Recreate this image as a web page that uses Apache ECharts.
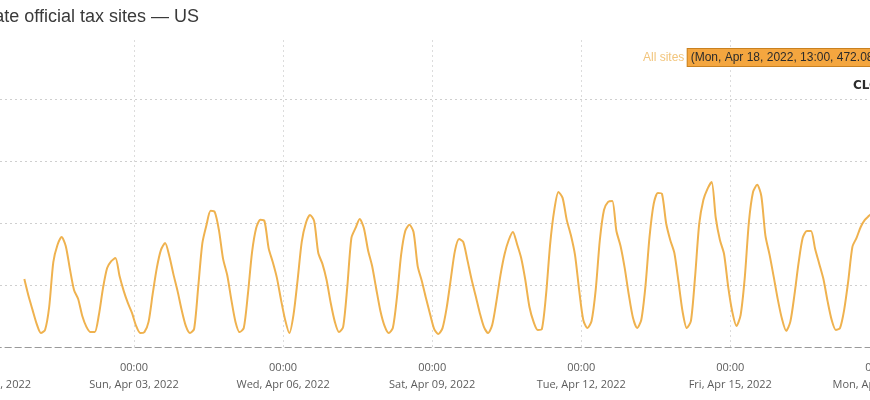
<!DOCTYPE html>
<html>
<head>
<meta charset="utf-8">
<title>Official tax sites — US</title>
<script src="https://cdn.jsdelivr.net/npm/echarts@6/dist/echarts.min.js"></script>
<style>
  html, body { margin: 0; padding: 0; overflow: hidden; background: #fff; }
  #main { position: absolute; left: -60px; top: 0; width: 1000px; height: 400px; }
</style>
</head>
<body>
<div id="main"></div>
<script>
// hours counted from Thu, Mar 31, 2022 00:00
var startHour = 19;
var stepHours = 2;
var seriesName = 'All sites';
var allSites = [
    219, 165, 119, 74, 45, 55, 129, 274, 329, 355, 326, 252,
    184, 155, 100, 65, 48, 48, 103, 190, 255, 277, 287, 229,
    181, 142, 110, 68, 45, 48, 81, 171, 255, 313, 335, 294,
    235, 181, 119, 68, 45, 58, 194, 335, 394, 439, 435, 377,
    284, 232, 152, 81, 48, 61, 171, 306, 384, 410, 406, 319,
    274, 223, 152, 87, 45, 103, 216, 339, 400, 426, 406, 303,
    268, 216, 142, 81, 48, 65, 194, 352, 384, 413, 384, 313,
    261, 187, 116, 68, 45, 61, 161, 297, 374, 394, 371, 261,
    213, 158, 106, 58, 42, 61, 126, 219, 310, 348, 339, 281,
    219, 165, 110, 65, 45, 71, 145, 232, 300, 345, 371, 332,
    287, 216, 129, 81, 55, 58, 168, 332, 442, 500, 481, 410,
    361, 297, 184, 87, 61, 84, 184, 345, 442, 468, 471, 374,
    326, 255, 168, 94, 61, 87, 194, 355, 461, 497, 494, 400,
    345, 303, 210, 113, 61, 84, 226, 397, 474, 510, 532, 416,
    345, 300, 194, 113, 68, 103, 223, 403, 500, 523, 487, 358,
    297, 226, 152, 90, 52, 81, 168, 271, 352, 374, 374, 316,
    268, 219, 148, 87, 55, 61, 119, 213, 323, 352, 387, 410,
    423, 435, 448, 455, 461, 465, 468, 471, 471, 472.08
];
var yTicks = [0, 200, 400, 600, 800];

var baseTime = Date.UTC(2022, 2, 31);
var dayNames = ['Sun', 'Mon', 'Tue', 'Wed', 'Thu', 'Fri', 'Sat'];
var monNames = ['Jan', 'Feb', 'Mar', 'Apr', 'May', 'Jun', 'Jul', 'Aug', 'Sep', 'Oct', 'Nov', 'Dec'];

function pad(n) { return n < 10 ? '0' + n : '' + n; }
function dateText(h) {
    var d = new Date(baseTime + h * 3600000);
    return dayNames[d.getUTCDay()] + ', ' + monNames[d.getUTCMonth()] + ' ' +
        pad(d.getUTCDate()) + ', ' + d.getUTCFullYear();
}
function timeText(h) {
    var d = new Date(baseTime + h * 3600000);
    return pad(d.getUTCHours()) + ':' + pad(d.getUTCMinutes());
}

var points = allSites.map(function (v, i) {
    return [startHour + i * stepHours, v];
});
var last = points[points.length - 1];
var hoverLabel = '(' + dateText(last[0]) + ', ' + timeText(last[0]) + ', ' + last[1] + ')';

var myChart = echarts.init(document.getElementById('main'));
var option = {
    animation: false,
    title: {
        text: 'Traffic to state official tax sites — US',
        right: 736,
        top: 3,
        textStyle: {
            fontFamily: 'Liberation Sans',
            fontSize: 18,
            fontWeight: 'normal',
            color: '#3a3a3a'
        }
    },
    legend: {
        data: [seriesName],
        left: 693,
        top: 43,
        icon: 'none',
        itemWidth: 0,
        itemHeight: 0,
        formatter: function (name) {
            return '{a|' + name + '} {b|' + hoverLabel + '}';
        },
        textStyle: {
            rich: {
                a: { color: '#f2c57c', fontSize: 12, fontFamily: 'Liberation Sans' },
                b: {
                    color: '#2b2b2b', fontSize: 12, fontFamily: 'Liberation Sans',
                    backgroundColor: '#f4a63f', borderColor: '#c98120', borderWidth: 1,
                    padding: [3, 3, 2, 3]
                }
            }
        }
    },
    graphic: [{
        type: 'text',
        left: 913,
        top: 80,
        style: {
            text: 'CLOUDFLARE',
            fill: '#2c2c2c',
            font: 'bold 12px "DejaVu Sans"'
        }
    }],
    grid: {
        left: 45,
        right: 11,
        top: 40,
        bottom: 53,
        containLabel: false,
        outerBoundsMode: 'none'
    },
    xAxis: {
        type: 'value',
        min: 0,
        max: 456,
        interval: 72,
        axisLine: {
            show: true,
            lineStyle: { color: '#9a9a9a', type: [6, 4], width: 1 }
        },
        axisTick: { show: false },
        axisLabel: {
            margin: 12,
            color: '#5c5c5c',
            fontFamily: 'Open Sans',
            fontSize: 11,
            lineHeight: 17,
            formatter: function (h) {
                return timeText(h) + '\n' + dateText(h);
            }
        },
        splitLine: {
            show: true,
            lineStyle: { color: '#dcdcdc', type: [2, 3], width: 1 }
        }
    },
    yAxis: {
        type: 'value',
        min: 0,
        max: 990,
        interval: 200,
        axisLine: { show: false },
        axisTick: { show: false },
        axisLabel: {
            color: '#5c5c5c',
            fontFamily: 'Open Sans',
            fontSize: 11,
            formatter: function (v) { return yTicks.indexOf(v) >= 0 ? v : ''; }
        },
        splitLine: {
            show: true,
            lineStyle: {
                color: ['#cfcfcf', '#cfcfcf', '#cfcfcf', '#cfcfcf', '#cfcfcf', 'rgba(0,0,0,0)'],
                type: [2, 3],
                width: 1
            }
        }
    },
    series: [{
        name: seriesName,
        type: 'line',
        data: points,
        showSymbol: false,
        smooth: 0.25,
        lineStyle: { color: '#efb24f', width: 2 },
        itemStyle: { color: '#efb24f' }
    }]
};
myChart.setOption(option);
</script>
</body>
</html>
